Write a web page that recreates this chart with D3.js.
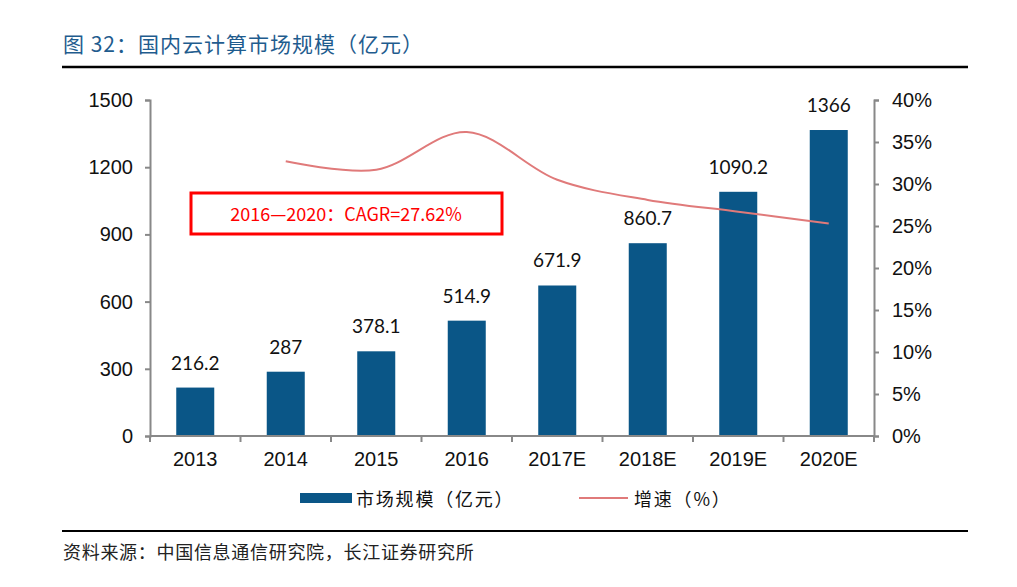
<!DOCTYPE html>
<html><head><meta charset="utf-8">
<script src="https://cdn.jsdelivr.net/npm/d3@7"></script>
<style>body{margin:0;background:#fff;} svg{display:block;}</style>
</head><body>
<svg id="c" width="1017" height="587"></svg>
<script>
const categories = ["2013","2014","2015","2016","2017E","2018E","2019E","2020E"];
const marketSize = [216.2, 287, 378.1, 514.9, 671.9, 860.7, 1090.2, 1366];
const growthYears = ["2014","2015","2016","2017E","2018E","2019E","2020E"];
const growthRate = [32.7, 31.7, 36.2, 30.5, 28.1, 26.7, 25.3];
const leftTicks = [0,300,600,900,1200,1500];
const rightTicks = [0,5,10,15,20,25,30,35,40];

const svg = d3.select("#c");
const cjk = "'Noto Sans CJK SC','Noto Sans',sans-serif";
const num = "Arial,'Liberation Sans',sans-serif";
const L = 150, R = 874, T = 100, B = 436;

// title
svg.append("text").attr("x",63).attr("y",52).attr("font-family",cjk).attr("font-size",21)
  .attr("letter-spacing",1).attr("fill","#1F5C8E").text("图 32：国内云计算市场规模（亿元）");
svg.append("line").attr("x1",62).attr("x2",968).attr("y1",67).attr("y2",67).attr("stroke","#000").attr("stroke-width",2.5);
svg.append("line").attr("x1",62).attr("x2",968).attr("y1",531).attr("y2",531).attr("stroke","#000").attr("stroke-width",2);
svg.append("text").attr("x",63).attr("y",559).attr("font-family",cjk).attr("font-size",18)
  .attr("letter-spacing",0.7).attr("fill","#222").text("资料来源：中国信息通信研究院，长江证券研究所");

const x = d3.scaleBand().domain(categories).range([L,R]).paddingInner(0.58).paddingOuter(0.29);
const xb = d3.scaleBand().domain(categories).range([L,R]);
const yL = d3.scaleLinear().domain([0,1500]).range([B,T]);
const yR = d3.scaleLinear().domain([0,40]).range([B,T]);

// bars
svg.append("g").selectAll("rect").data(categories).join("rect")
  .attr("x",d=>x(d)).attr("width",x.bandwidth())
  .attr("y",(d,i)=>yL(marketSize[i])).attr("height",(d,i)=>B-yL(marketSize[i]))
  .attr("fill","#0A5687");

// bar labels
svg.append("g").selectAll("text").data(categories).join("text")
  .attr("x",d=>x(d)+x.bandwidth()/2).attr("y",(d,i)=>yL(marketSize[i])-18)
  .attr("text-anchor","middle").attr("font-family","Lato,'Noto Sans',sans-serif").attr("font-size",19)
  .attr("fill","#111").text((d,i)=>marketSize[i]);

// axes
const axL = svg.append("g").attr("transform",`translate(${L},0)`)
  .call(d3.axisLeft(yL).tickValues(leftTicks).tickSize(5).tickPadding(12).tickFormat(d3.format("d")));
const axR = svg.append("g").attr("transform",`translate(${R},0)`)
  .call(d3.axisRight(yR).tickValues(rightTicks).tickSize(5).tickPadding(13).tickFormat(d=>d+"%"));
const axB = svg.append("g").attr("transform",`translate(0,${B})`)
  .call(d3.axisBottom(xb).tickSize(0).tickPadding(16));
[axL,axR,axB].forEach(a=>{
  a.select(".domain").attr("stroke","#888").attr("stroke-width",2);
  a.selectAll(".tick line").attr("stroke","#888").attr("stroke-width",2);
  a.selectAll("text").attr("font-family",num).attr("font-size",20).attr("fill","#111");
});
axB.select(".domain").attr("d",`M${L},0H${R}`);
// category separator ticks
svg.append("g").selectAll("line").data(categories.concat(["end"])).join("line")
  .attr("x1",(d,i)=>i<categories.length?xb(d):R).attr("x2",(d,i)=>i<categories.length?xb(d):R)
  .attr("y1",B).attr("y2",B+6).attr("stroke","#888").attr("stroke-width",2);

// growth line
const line = d3.line().x(d=>xb(d)+xb.bandwidth()/2).y((d,i)=>yR(growthRate[i])).curve(d3.curveCatmullRom.alpha(0.5));
svg.append("path").datum(growthYears).attr("d",line).attr("fill","none")
  .attr("stroke","#E07A7A").attr("stroke-width",2);

// annotation
svg.append("rect").attr("x",191).attr("y",193).attr("width",311).attr("height",41)
  .attr("fill","#fff").attr("stroke","#FF0000").attr("stroke-width",3);
svg.append("text").attr("x",346).attr("y",221).attr("text-anchor","middle")
  .attr("font-family",cjk).attr("font-size",18).attr("fill","#FF0000").text("2016—2020：CAGR=27.62%");

// legend
svg.append("rect").attr("x",300).attr("y",493).attr("width",52).attr("height",10).attr("fill","#0A5687");
svg.append("text").attr("x",356).attr("y",506).attr("font-family",cjk).attr("font-size",18).attr("letter-spacing",1.8).attr("fill","#111").text("市场规模（亿元）");
svg.append("line").attr("x1",579).attr("x2",628).attr("y1",498).attr("y2",498).attr("stroke","#E07A7A").attr("stroke-width",2);
svg.append("text").attr("x",634).attr("y",506).attr("font-family",cjk).attr("font-size",18).attr("letter-spacing",1.8).attr("fill","#111").text("增速（%）");
</script>
</body></html>
